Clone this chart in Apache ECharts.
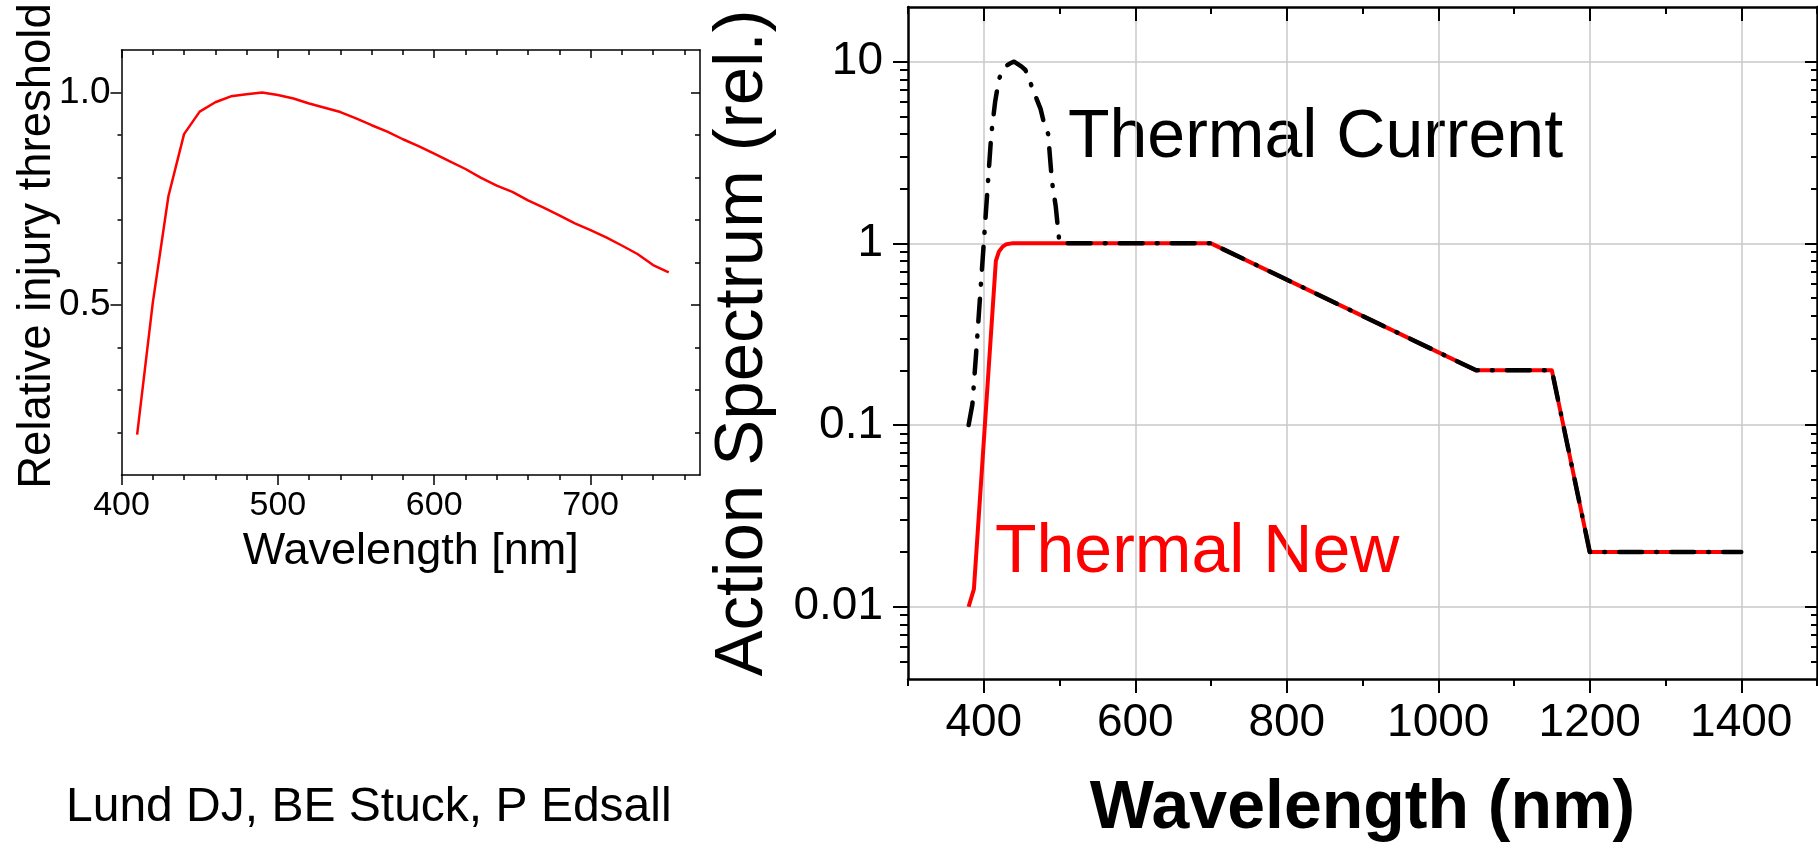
<!DOCTYPE html>
<html><head><meta charset="utf-8">
<script src="https://cdn.jsdelivr.net/npm/echarts@6/dist/echarts.min.js"></script>
<style>html,body{margin:0;padding:0;background:#fff}#c{width:1818px;height:848px}</style>
</head><body><div id="c"></div>
<script>
const FONT = "'Liberation Sans', Arial, Helvetica, sans-serif";

// ---- Left chart (Lund DJ, BE Stuck, P Edsall) ----
const leftWavelengths = [410,420,430,440,450,460,470,480,490,500,510,520,530,540,550,560,570,580,590,600,610,620,630,640,650,660,670,680,690,700,710,720,730,740,750];
const leftThreshold   = [0.195,0.505,0.756,0.902,0.955,0.977,0.991,0.996,1.0,0.994,0.986,0.974,0.964,0.954,0.939,0.923,0.908,0.890,0.874,0.856,0.838,0.820,0.799,0.781,0.766,0.746,0.729,0.711,0.692,0.676,0.659,0.640,0.620,0.594,0.577];
const leftXTicks = [400,500,600,700];
const leftXMinorTicks = [420,440,460,480,520,540,560,580,620,640,660,680,720,740,760];
const leftYTicks = [0.5,1.0];
const leftYMinorTicks = [0.2,0.3,0.4,0.6,0.7,0.8,0.9];

// ---- Right chart (action spectra) ----
const newWavelengths = [380,387,416,420,425,430,437,700,1050,1150,1200,1400];
const newValues      = [0.01,0.0125,0.8,0.9,0.96,0.99,1,1,0.2,0.2,0.02,0.02];
const currentWavelengths = [380,385,390,395,400,405,410,415,420,425,430,435,440,445,450,455,460,465,470,475,480,485,490,495,500,700,1050,1150,1200,1400];
const currentValues      = [0.1,0.13,0.25,0.5,1.0,2.0,4.0,6.0,8.0,9.0,9.5,9.8,10,9.7,9.4,9.0,8.0,7.0,6.2,5.5,4.5,4.0,2.2,1.6,1.0,1,0.2,0.2,0.02,0.02];
const rightXTicks = [400,600,800,1000,1200,1400];
const rightXMinorTicks = [300,500,700,900,1100,1300,1500];
const rightYTicks = [0.01,0.1,1,10];
const rightYMinorTicks = [0.005,0.006,0.007,0.008,0.009,0.02,0.03,0.04,0.05,0.06,0.07,0.08,0.09,0.2,0.3,0.4,0.5,0.6,0.7,0.8,0.9,2,3,4,5,6,7,8,9];

const zip = (a,b) => a.map((v,i)=>[v,b[i]]);
const fmt = v => String(+Number(v).toPrecision(6));

function ax(base, o){
  return Object.assign({
    type:'value',
    axisLine:{show:false, onZero:false},
    axisTick:{show:false},
    axisLabel:{show:false},
    splitLine:{show:false}
  }, base, o);
}
function tickAx(base, pos, values, len, inside, width, showLine, lineW){
  return ax(base, {
    position: pos,
    axisLine:{show:!!showLine, onZero:false, lineStyle:{color:'#000', width:lineW||1.5}},
    axisTick:{show:true, customValues: values, length: len, inside: !!inside, lineStyle:{color:'#000', width: width}}
  });
}

const L_X = {gridIndex:0, min:400, max:770};
const L_Y = {gridIndex:0, min:0.1, max:1.1};
const R_X = {gridIndex:1, min:300, max:1500};
const R_Y = {gridIndex:1, type:'log', logBase:10, min:0.004, max:20};

const option = {
  animation:false,
  backgroundColor:'#fff',
  grid:[
    {left:121.5, top:50, width:578.5, height:425},
    {left:908, top:7, width:909, height:672}
  ],
  xAxis:[
    ax(L_X, {
      position:'bottom',
      axisLine:{show:true, onZero:false, lineStyle:{color:'#000', width:1.5}},
      axisTick:{show:true, customValues:leftXTicks, length:10, lineStyle:{color:'#000', width:1.5}},
      axisLabel:{show:true, customValues:leftXTicks, fontSize:34, color:'#000', fontFamily:FONT, margin:14, formatter:fmt},
      name:'Wavelength [nm]', nameLocation:'middle', nameGap:54,
      nameTextStyle:{fontSize:45, color:'#000', fontFamily:FONT}
    }),
    tickAx(L_X,'bottom',leftXMinorTicks,5,false,1.5),
    tickAx(L_X,'top',leftXTicks,8,true,1.5,true,1.5),
    tickAx(L_X,'top',leftXMinorTicks,5,true,1.5),
    ax(R_X, {
      position:'bottom',
      axisLine:{show:true, onZero:false, lineStyle:{color:'#000', width:2.5}},
      axisTick:{show:true, customValues:rightXTicks, length:14, lineStyle:{color:'#000', width:2}},
      axisLabel:{show:true, customValues:rightXTicks, fontSize:46, color:'#000', fontFamily:FONT, margin:21, formatter:fmt},
      splitLine:{show:true, lineStyle:{color:'#c8c8c8', width:1.5}},
      name:'Wavelength (nm)', nameLocation:'middle', nameGap:96,
      nameTextStyle:{fontSize:68, fontWeight:'bold', color:'#000', fontFamily:FONT}
    }),
    tickAx(R_X,'bottom',rightXMinorTicks,7,false,2),
    tickAx(R_X,'top',rightXTicks,14,true,2,true,2.5),
    tickAx(R_X,'top',rightXMinorTicks,7,true,2)
  ],
  yAxis:[
    ax(L_Y, {
      position:'left',
      axisLine:{show:true, onZero:false, lineStyle:{color:'#000', width:1.5}},
      axisTick:{show:true, customValues:leftYTicks, length:11, lineStyle:{color:'#000', width:1.5}},
      axisLabel:{show:true, customValues:leftYTicks, fontSize:37, color:'#000', fontFamily:FONT, margin:11, formatter:v=>Number(v).toFixed(1)}
    }),
    tickAx(L_Y,'left',leftYMinorTicks,4,false,1.5),
    tickAx(L_Y,'right',leftYTicks,9,true,1.5,true,1.5),
    tickAx(L_Y,'right',leftYMinorTicks,5,true,1.5),
    ax(R_Y, {
      position:'left',
      axisLine:{show:true, onZero:false, lineStyle:{color:'#000', width:2.5}},
      axisTick:{show:true, customValues:rightYTicks, length:15, lineStyle:{color:'#000', width:2}},
      axisLabel:{show:true, customValues:rightYTicks, fontSize:46, color:'#000', fontFamily:FONT, margin:25, formatter:fmt},
      splitLine:{show:true, lineStyle:{color:'#c8c8c8', width:1.5}}
    }),
    tickAx(R_Y,'left',rightYMinorTicks,8,false,2),
    tickAx(R_Y,'right',rightYTicks,12,true,2,true,2.5),
    tickAx(R_Y,'right',rightYMinorTicks,6,true,2)
  ],
  series:[
    {type:'line', name:'Relative injury threshold', xAxisIndex:0, yAxisIndex:0,
     data: zip(leftWavelengths,leftThreshold), symbol:'none', z:3,
     lineStyle:{color:'#ff0000', width:2.5}},
    {type:'line', name:'Thermal New', xAxisIndex:4, yAxisIndex:4,
     data: zip(newWavelengths,newValues), symbol:'none', z:3,
     lineStyle:{color:'#ff0000', width:4, join:'round'}},
    {type:'line', name:'Thermal Current', xAxisIndex:4, yAxisIndex:4,
     data: zip(currentWavelengths,currentValues), symbol:'none', z:4,
     lineStyle:{color:'#000', width:4.5, type:[23,14,1,14], cap:'round', join:'round'}}
  ],
  graphic:[
    {type:'text', x:37, y:246, rotation:Math.PI/2,
     style:{text:'Relative injury threshold', fontSize:45.5, fontFamily:FONT, fill:'#000', align:'center', verticalAlign:'middle'}},
    {type:'text', x:743, y:343, rotation:Math.PI/2,
     style:{text:'Action Spectrum (rel.)', fontSize:69, fontFamily:FONT, fill:'#000', align:'center', verticalAlign:'middle'}},
    {type:'text', x:1068, y:138,
     style:{text:'Thermal Current', fontSize:68, fontFamily:FONT, fill:'#000', align:'left', verticalAlign:'middle'}},
    {type:'text', x:995, y:553,
     style:{text:'Thermal New', fontSize:68, fontFamily:FONT, fill:'#ff0000', align:'left', verticalAlign:'middle'}},
    {type:'text', x:66, y:808,
     style:{text:'Lund DJ, BE Stuck, P Edsall', fontSize:48, fontFamily:FONT, fill:'#000', align:'left', verticalAlign:'middle'}}
  ]
};
echarts.init(document.getElementById('c'), null, {renderer:'canvas'}).setOption(option);
</script>
</body></html>
